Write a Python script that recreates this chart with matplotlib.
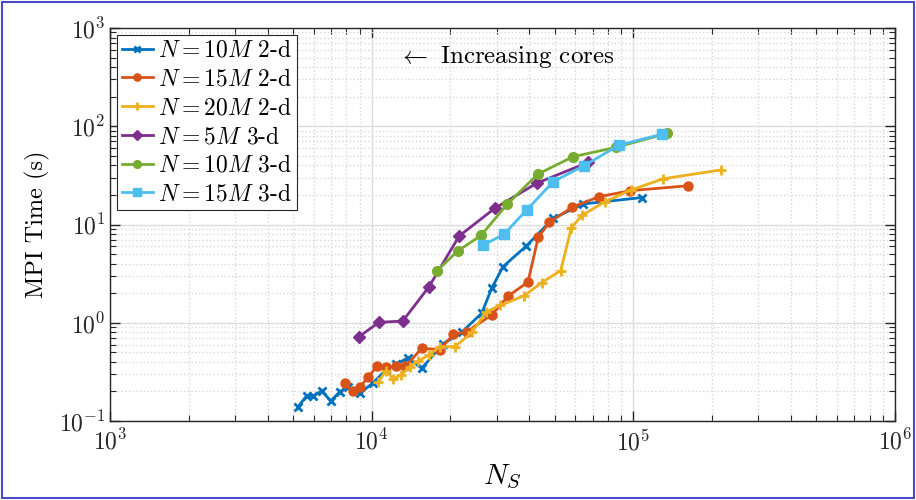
import matplotlib
matplotlib.use('Agg')
import matplotlib.pyplot as plt
from matplotlib.patches import Rectangle

plt.rcParams['font.family'] = 'cmr10'
plt.rcParams['mathtext.fontset'] = 'cm'
plt.rcParams['axes.formatter.use_mathtext'] = True

# N = 10M, 2-d
ns_10m_2d = [5240, 5640, 5980, 6440, 6970, 7560, 8120, 9020, 10100, 11340, 12380,
             13760, 15520, 18770, 22130, 26330, 28740, 31750, 38970, 49420, 64470, 107600]
t_10m_2d = [0.140, 0.180, 0.180, 0.202, 0.160, 0.199, 0.223, 0.191, 0.244, 0.331, 0.380,
            0.438, 0.344, 0.608, 0.805, 1.25, 2.24, 3.72, 6.04, 11.56, 16.2, 18.8]

# N = 15M, 2-d
ns_15m_2d = [7910, 8460, 9020, 9720, 10480, 11340, 12380, 13460, 15520, 18240, 20540,
             23070, 28740, 33270, 39560, 43310, 47710, 58520, 74070, 97500, 161700]
t_15m_2d = [0.242, 0.200, 0.222, 0.281, 0.363, 0.354, 0.363, 0.359, 0.549, 0.534, 0.763,
            0.811, 1.20, 1.87, 2.60, 7.41, 10.48, 15.07, 19.2, 22.1, 24.8]

# N = 20M, 2-d
ns_20m_2d = [10600, 11340, 12090, 12940, 14010, 15070, 16560, 18240, 20810, 24160, 27340,
             30930, 38290, 44620, 52750, 57890, 63460, 77900, 97650, 130100, 215600]
t_20m_2d = [0.251, 0.323, 0.268, 0.294, 0.357, 0.408, 0.47, 0.571, 0.573, 0.796, 1.29,
            1.50, 1.885, 2.56, 3.39, 9.21, 12.35, 17.06, 22.4, 29.2, 35.9]

# N = 5M, 3-d
ns_5m_3d = [8940, 10660, 13140, 16510, 21600, 29510, 42710, 67070]
t_5m_3d = [0.721, 1.01, 1.04, 2.30, 7.64, 14.6, 26.3, 42.8]

# N = 10M, 3-d
ns_10m_3d = [17720, 21310, 26160, 32890, 43090, 58760, 85820, 134800]
t_10m_3d = [3.36, 5.37, 7.73, 15.98, 32.5, 48.97, 61.0, 84.8]

# N = 15M, 3-d
ns_15m_3d = [26700, 32030, 39100, 49420, 64860, 88340, 128300]
t_15m_3d = [6.18, 7.94, 14.05, 27.3, 39.7, 64.4, 82.8]

series = [
    (ns_10m_2d, t_10m_2d, '#0072BD', 'x', 5.5, r'$N = 10M$ 2-d'),
    (ns_15m_2d, t_15m_2d, '#D95319', 'o', 6.5, r'$N = 15M$ 2-d'),
    (ns_20m_2d, t_20m_2d, '#EDB120', '+', 7.5, r'$N = 20M$ 2-d'),
    (ns_5m_3d, t_5m_3d, '#7E2F8E', 'D', 6.0, r'$N = 5M$ 3-d'),
    (ns_10m_3d, t_10m_3d, '#77AC30', 'o', 7.0, r'$N = 10M$ 3-d'),
    (ns_15m_3d, t_15m_3d, '#4DBEEE', 's', 6.5, r'$N = 15M$ 3-d'),
]

fig = plt.figure(figsize=(9.16, 5.0), dpi=100)
ax = fig.add_axes([0.1201, 0.158, 0.857, 0.786])

for xs, ys, color, marker, ms, label in series:
    ax.plot(xs, ys, color=color, marker=marker, markersize=ms, linewidth=2,
            markeredgewidth=2 if marker in ('x', '+') else 1, label=label)

ax.set_xscale('log')
ax.set_yscale('log')
ax.set_xlim(1e3, 1e6)
ax.set_ylim(1e-1, 1e3)

ax.grid(True, which='major', color='#dcdcdc', linestyle='-', linewidth=1)
ax.grid(True, which='minor', color='#d8d8d8', linestyle=':', linewidth=1)
ax.set_axisbelow(True)

ax.tick_params(which='both', direction='in', top=True, right=True,
               colors='#262626', labelsize=17)
ax.tick_params(axis='x', pad=6)
ax.tick_params(which='major', length=7, width=1)
ax.tick_params(which='minor', length=4, width=0.8)
for s in ax.spines.values():
    s.set_color('#262626')
    s.set_linewidth(1)

ax.set_xlabel(r'$N_S$', fontsize=21, labelpad=6)
ax.set_ylabel('MPI Time (s)', fontsize=17.5, labelpad=6)

ax.text(0.367, 0.926, r'$\leftarrow$ Increasing cores', transform=ax.transAxes,
        fontsize=18, va='center', ha='left')

leg = ax.legend(loc='upper left', fontsize=17, handlelength=1.3, handletextpad=0.25,
                borderpad=0.2, labelspacing=0.28, borderaxespad=0.3, markerscale=0.8,
                fancybox=False, framealpha=1, edgecolor='#262626')
leg.get_frame().set_linewidth(0.8)

fig.patches.append(Rectangle((0.002, 0.004), 0.996, 0.992, transform=fig.transFigure,
                             fill=False, edgecolor='#4a4ac8', linewidth=1.5))

fig.savefig('out.png', dpi=100)
